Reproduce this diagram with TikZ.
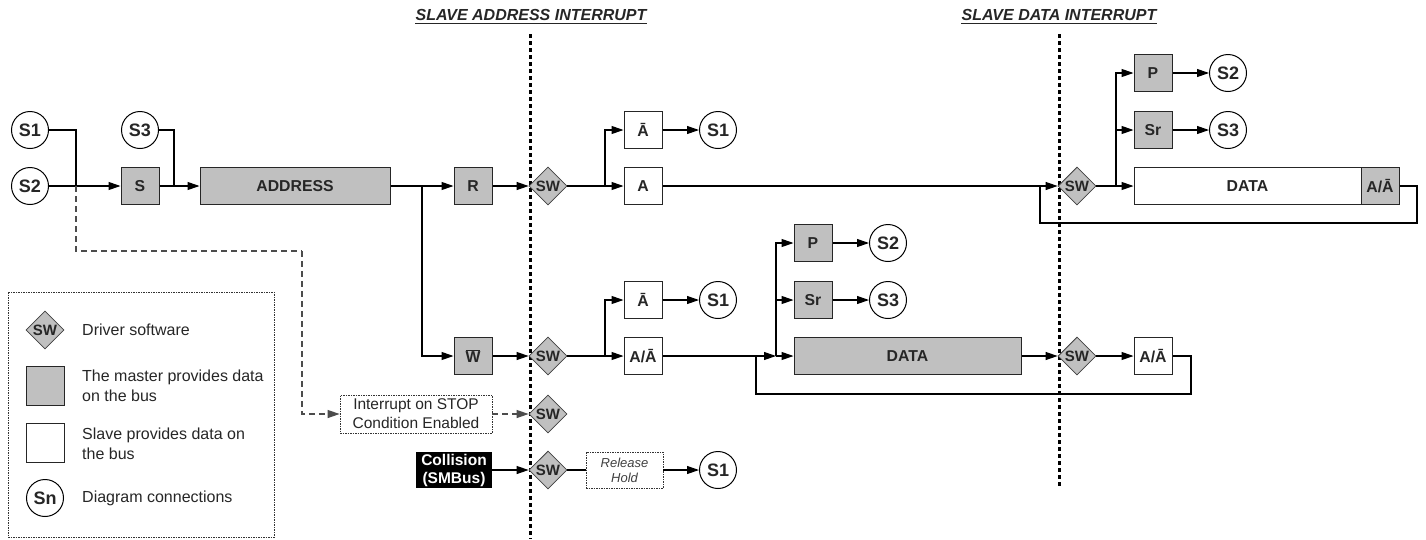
\documentclass[tikz,border=0pt]{standalone}
\usepackage{fontspec}
\setmainfont{Liberation Sans}
\usetikzlibrary{arrows.meta,shapes.geometric,calc}
\definecolor{mgrey}{HTML}{C0C0C0}
\definecolor{ink}{HTML}{262626}
\newcommand{\ovl}[1]{$\overline{\hbox{#1}}$}
\begin{document}
\begin{tikzpicture}[x=1pt,y=-1pt,
  base/.style={draw=black!85, line width=1pt, inner sep=0pt, text=ink, font=\fontsize{15.8}{17}\selectfont\bfseries},
  mbox/.style={base, fill=mgrey, minimum width=38pt, minimum height=37pt},
  sbox/.style={base, fill=white, minimum width=38pt, minimum height=37pt},
  conn/.style={circle, draw=black, line width=1pt, fill=white, minimum size=37pt, inner sep=0pt, text=ink, font=\fontsize{18}{20}\selectfont\bfseries},
  sw/.style={diamond, draw=black!75, fill=mgrey, line width=0.8pt, minimum width=38pt, minimum height=38pt, inner sep=0pt, text=ink, font=\fontsize{15}{16}\selectfont\bfseries},
  arr/.style={line width=1.1pt, -{Triangle[length=12pt,width=8pt]}},
  ln/.style={line width=1.1pt},
  dsh/.style={line width=1.1pt, draw=black!70, dash pattern=on 6pt off 4pt},
  vdot/.style={line width=3pt, dash pattern=on 4pt off 3pt},
  dotbox/.style={draw=black!80, line width=0.8pt, dash pattern=on 1.5pt off 1pt, inner sep=0pt, text=ink},
  title/.style={font=\fontsize{16}{18}\selectfont\bfseries\itshape, text=ink, inner sep=0pt, anchor=base},
  legtxt/.style={font=\fontsize{16}{20}\selectfont, text=ink, anchor=west, align=left, inner sep=0pt}
]
\useasboundingbox (0,0) rectangle (1426,539);

% titles
\node[title] (t1) at (531,20) {SLAVE ADDRESS INTERRUPT};
\node[title] (t2) at (1059,20) {SLAVE DATA INTERRUPT};
\draw[line width=1.6pt, ink] ($(t1.base west)+(0,3.5)$) -- ($(t1.base east)+(0,3.5)$);
\draw[line width=1.6pt, ink] ($(t2.base west)+(0,3.5)$) -- ($(t2.base east)+(0,3.5)$);

% interrupt separators
\coordinate (v1a) at (530,34); \coordinate (v1b) at (530,539);
\coordinate (v2a) at (1059,34); \coordinate (v2b) at (1059,486);
\draw[vdot] (v1a) -- (v1b);
\draw[vdot] (v2a) -- (v2b);

% first row
\node[conn] (S1L) at (30,130) {S1};
\node[conn] (S2L) at (30,186) {S2};
\node[mbox] (Sb) at (140,186) {S};
\node[conn] (S3L) at (140,130) {S3};
\node[mbox, minimum width=190pt] (ADDR) at (295,186) {ADDRESS};
\node[mbox] (R) at (473,186) {R};
\node[sw] (SW1) at (548,186) {SW};
\node[sbox] (Ab1) at (643,130) {Ā};
\node[sbox] (A1) at (643,186) {A};
\node[conn] (S1a) at (718,130) {S1};
\node[sw] (SW2) at (1077,186) {SW};
\node[mbox] (P1) at (1153,73) {P};
\node[conn] (S2a) at (1228,73) {S2};
\node[mbox] (Sr1) at (1153,130) {Sr};
\node[conn] (S3a) at (1228,130) {S3};
\node[sbox, minimum width=227pt] (D1) at (1247.5,186) {DATA};
\node[mbox] (AA1) at (1380,186) {A/Ā};

% second row
\node[mbox] (W) at (473,356) {\ovl{W}};
\node[sw] (SW3) at (548,356) {SW};
\node[sbox] (Ab2) at (643,300) {Ā};
\node[conn] (S1b) at (718,300) {S1};
\node[sbox] (AA2) at (643,356) {A/Ā};
\node[mbox] (P2) at (813,243) {P};
\node[conn] (S2b) at (888,243) {S2};
\node[mbox] (Sr2) at (813,300) {Sr};
\node[conn] (S3b) at (888,300) {S3};
\node[mbox, minimum width=227pt] (D2) at (907.5,356) {DATA};
\node[sw] (SW4) at (1077,356) {SW};
\node[sbox] (AA3) at (1153,356) {A/Ā};

% stop / collision rows
\node[dotbox, minimum width=152pt, minimum height=38pt, align=center, font=\fontsize{15.5}{19}\selectfont] (INT) at (416,414) {Interrupt on STOP\\Condition Enabled};
\node[sw] (SW5) at (548,414) {SW};
\node[fill=black, text=white, minimum width=76pt, minimum height=36pt, inner sep=0pt, align=center, font=\fontsize{15.5}{18}\selectfont\bfseries] (COL) at (454,470) {Collision\\(SMBus)};
\node[sw] (SW6) at (548,470) {SW};
\node[dotbox, minimum width=77pt, minimum height=36pt, align=center, font=\fontsize{13}{15}\selectfont\itshape, text=black!75] (REL) at (624.5,470) {Release\\Hold};
\node[conn] (S1c) at (718,470) {S1};

% junction coordinates
\coordinate (j1) at (76,186);
\coordinate (j2) at (174,186);
\coordinate (jd) at (302,251);
\coordinate (j3) at (422,186);
\coordinate (j4) at (605,186);
\coordinate (j5) at (1116,186);
\coordinate (lp1) at (1417,223);
\coordinate (lp2) at (1040,186);
\coordinate (j6) at (605,356);
\coordinate (j7) at (776,356);
\coordinate (lp3) at (1191,394);
\coordinate (lp4) at (756,356);

% connectors row 1
\draw[ln] (S1L.east) -| (j1);
\draw[arr] (S2L.east) -- (Sb.west);
\draw[ln] (S3L.east) -| (j2);
\draw[arr] (Sb.east) -- (ADDR.west);
\draw[arr] (ADDR.east) -- (R.west);
\draw[arr] (j3) |- (W.west);
\draw[arr] (R.east) -- (SW1.west);
\draw[arr] (SW1.east) -- (A1.west);
\draw[arr] (j4) |- (Ab1.west);
\draw[arr] (Ab1.east) -- (S1a.west);
\draw[arr] (A1.east) -- (SW2.west);
\draw[arr] (SW2.east) -- (D1.west);
\draw[arr] (j5) |- (P1.west);
\draw[arr] (j5) |- (Sr1.west);
\draw[arr] (P1.east) -- (S2a.west);
\draw[arr] (Sr1.east) -- (S3a.west);
\draw[ln] (AA1.east) -| (lp1) -| (lp2);

% connectors row 2
\draw[arr] (W.east) -- (SW3.west);
\draw[arr] (SW3.east) -- (AA2.west);
\draw[arr] (j6) |- (Ab2.west);
\draw[arr] (Ab2.east) -- (S1b.west);
\draw[arr] (AA2.east) -- (j7);
\draw[arr] (j7) -- (D2.west);
\draw[arr] (j7) |- (P2.west);
\draw[arr] (j7) |- (Sr2.west);
\draw[arr] (P2.east) -- (S2b.west);
\draw[arr] (Sr2.east) -- (S3b.west);
\draw[arr] (D2.east) -- (SW4.west);
\draw[arr] (SW4.east) -- (AA3.west);
\draw[ln] (AA3.east) -| (lp3) -| (lp4);

% stop / collision
\draw[dsh] (j1) |- (jd);
\draw[dsh, -{Triangle[length=12pt,width=8pt]}] (jd) |- (INT.west);
\draw[dsh, -{Triangle[length=12pt,width=8pt]}] (INT.east) -- (SW5.west);
\draw[arr] (COL.east) -- (SW6.west);
\draw[ln] (SW6.east) -- (REL.west);
\draw[arr] (REL.east) -- (S1c.west);

% legend
\coordinate (lgA) at (8,292); \coordinate (lgB) at (274,537);
\draw[draw=black!80, line width=0.8pt, dash pattern=on 1.5pt off 1pt] (lgA) rectangle (lgB);
\node[sw] (Lsw) at (45,330) {SW};
\node[mbox, minimum height=39pt] (Lm) at (45,386) {};
\node[sbox, minimum height=39pt] (Ls) at (45,443) {};
\node[conn] (Ln) at (45,498) {Sn};
\node[legtxt] (Lt1) at (82,330) {Driver software};
\node[legtxt] (Lt2) at (82,386) {The master provides data\\on the bus};
\node[legtxt] (Lt3) at (82,444) {Slave provides data on\\the bus};
\node[legtxt] (Lt4) at (82,498) {Diagram connections};
\end{tikzpicture}
\end{document}
